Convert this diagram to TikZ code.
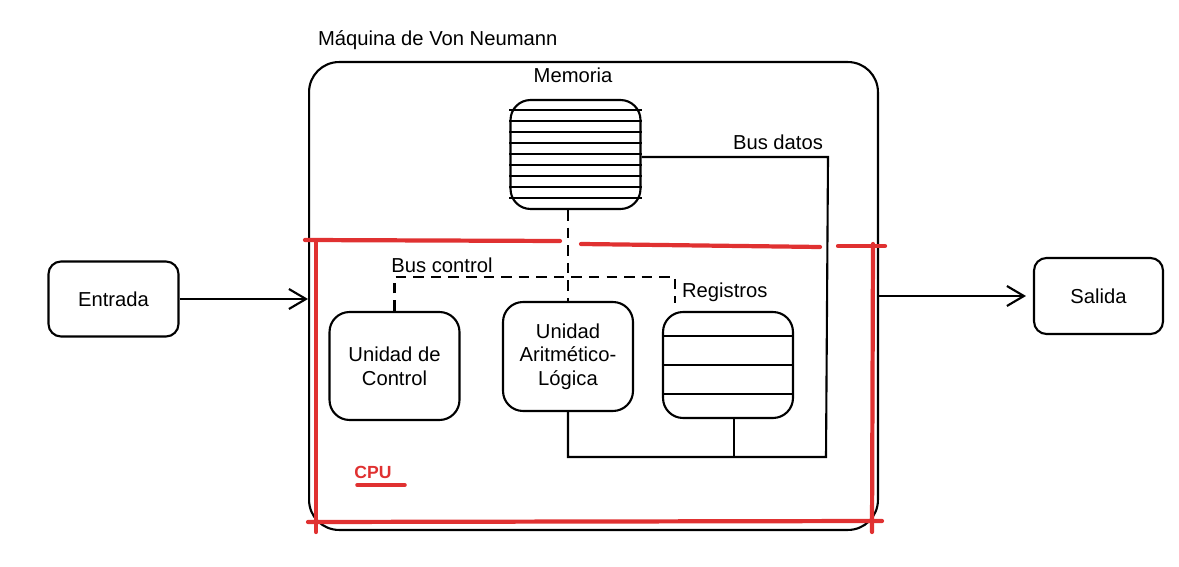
\documentclass[tikz,border=0pt]{standalone}
\usepackage{fontspec}
\setmainfont{Liberation Sans}
\usetikzlibrary{arrows.meta, positioning, calc}
\definecolor{cpured}{RGB}{224,49,49}
\tikzstyle{unit} = [rectangle, rounded corners=0.4cm, minimum width=2.6cm, minimum height=2.16cm, align=center, draw=black, line width=1.2pt, font=\fontsize{11.5}{13.5}\selectfont]
\tikzstyle{io} = [rectangle, rounded corners=0.25cm, minimum width=2.6cm, minimum height=1.5cm, draw=black, line width=1.2pt, font=\fontsize{11.5}{13.5}\selectfont]
\tikzstyle{tag} = [inner sep=1pt, font=\fontsize{11.5}{13.5}\selectfont]
\tikzstyle{bus} = [draw=black, line width=1.2pt]
\tikzstyle{cpuline} = [draw=cpured, line width=2.4pt, line cap=round]

\begin{document}
\begin{tikzpicture}[x=0.02cm, y=-0.02cm]
\useasboundingbox (0,0) rectangle (1179,567);
% machine
\node (vn) [tag, anchor=west] at (316,40) {Máquina de Von Neumann};
\node (outer) [draw=black, line width=1.2pt, rounded corners=0.6cm, minimum width=11.38cm, minimum height=9.36cm] at (593.5,296) {};
% memory
\node (memlbl) [tag] at (573,75) {Memoria};
\node (mem) [unit, minimum height=2.18cm] at (575.5,154.5) {};
\foreach \y in {110,121,...,198}
  \draw[bus] (mem.west |- 0,\y) -- (mem.east |- 0,\y);
% cpu units
\node (uc) [unit] at (394.5,366) {Unidad de\\Control};
\node (alu) [unit, minimum height=2.18cm] at (568,356.5) {Unidad\\Aritmético-\\Lógica};
\node (reg) [unit, minimum height=2.12cm] at (728,365) {};
\foreach \y in {336,365,394}
  \draw[bus] (reg.west |- 0,\y) -- (reg.east |- 0,\y);
\node (reglbl) [tag, anchor=west] at (680,292) {Registros};
% in / out
\node (ent) [io] at (113.5,299) {Entrada};
\node (sal) [io, minimum width=2.58cm, minimum height=1.52cm] at (1098.5,296) {Salida};
% buses
\coordinate (bdE) at (828,157);
\coordinate (bdS) at (826,457);
\coordinate (regS) at (734,418);
\coordinate (bcL) at (394.5,277);
\coordinate (bcR) at (675,277);
\coordinate (bcEnd) at (675,303);
\node (bdlbl) [tag, anchor=south] at (778,152) {Bus datos};
\node (bclbl) [tag, anchor=south] at (442,275) {Bus control};
\draw[bus] (mem.east |- bdE) -- (bdE) -- (bdS) -- (alu.south |- bdS) -- (alu.south);
\draw[bus] (regS) -- (regS |- bdS);
\draw[bus, dashed, dash pattern=on 6pt off 4pt] (alu.north |- mem.south) -- (alu.north);
\draw[bus, dashed, dash pattern=on 6pt off 4pt] (uc.north) -- (bcL) -- (bcR) -- (bcEnd);
\draw[bus, -{Straight Barb[length=3.4mm,width=4mm]}] (ent.east) -- (outer.west |- ent.east);
\draw[bus, -{Straight Barb[length=3.4mm,width=4mm]}, shorten >=1.4mm] (outer.east |- sal.west) -- (sal.west);
% cpu frame
\draw[cpuline] (305,240) -- (560,241);
\draw[cpuline] (581,244) -- (820,247);
\draw[cpuline] (838,246) -- (885,246);
\draw[cpuline] (316,241) -- (316,532);
\draw[cpuline] (873,244) -- (872,532);
\draw[cpuline] (308,522) -- (882,521);
\node (cpu) [text=cpured, inner sep=0pt, font=\fontsize{10}{12}\bfseries\selectfont] at (373,472) {CPU};
\draw[cpuline, line width=2pt] (357,485) -- (405,485);
\end{tikzpicture}
\end{document}
